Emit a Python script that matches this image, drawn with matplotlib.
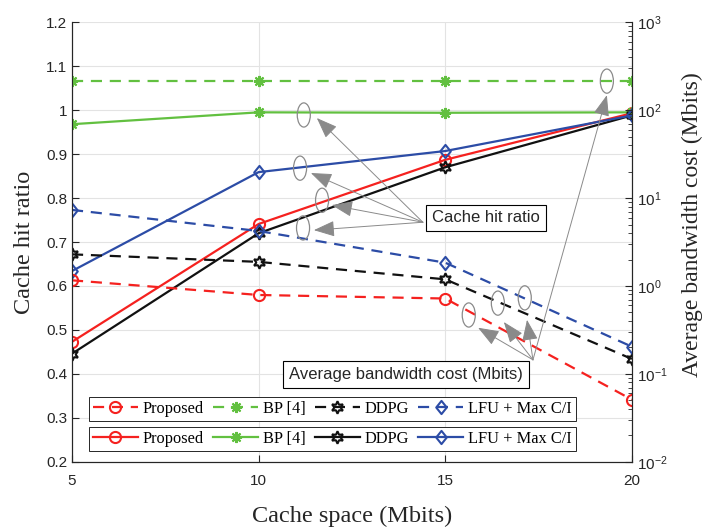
import matplotlib
matplotlib.use("Agg")
import matplotlib.pyplot as plt
from matplotlib.patches import Ellipse
from matplotlib.path import Path

# --------------------------------------------------------------------------- #
# data
# --------------------------------------------------------------------------- #
cache_space = [5, 10, 15, 20]
labels = ["Proposed", "BP [4]", "DDPG", "LFU + Max C/I"]

# cache hit ratio (left axis)
hit_proposed = [0.473, 0.741, 0.887, 0.993]
hit_bp = [0.968, 0.995, 0.994, 0.995]
hit_ddpg = [0.446, 0.720, 0.870, 0.988]
hit_lfu = [0.634, 0.859, 0.907, 0.988]

# average bandwidth cost in Mbits (right axis, log scale)
bw_proposed = [1.16, 0.79, 0.72, 0.051]
bw_bp = [214, 214, 214, 214]
bw_ddpg = [2.29, 1.88, 1.19, 0.148]
bw_lfu = [7.33, 4.22, 1.84, 0.204]

# --------------------------------------------------------------------------- #
# styles
# --------------------------------------------------------------------------- #
RED, GREEN, BLACK, BLUE = "#f5211f", "#62c040", "#111111", "#2c4ca6"
GRAY = "#8a8a8a"
TXT = "#262626"
SERIF = "Liberation Serif"
SANS = "Liberation Sans"

diamond = Path([(0, 1), (0.8, 0), (0, -1), (-0.8, 0), (0, 1)],
               [Path.MOVETO, Path.LINETO, Path.LINETO, Path.LINETO, Path.CLOSEPOLY])
markers = [
    dict(marker="o", ms=8),
    dict(marker=(8, 2, 0), ms=8),
    dict(marker=(6, 1, 0), ms=9),
    dict(marker=diamond, ms=9.5),
]
colors = [RED, GREEN, BLACK, BLUE]

plt.rcParams["font.family"] = SANS

fig = plt.figure(figsize=(7.06, 5.29), dpi=100)
ax = fig.add_axes([0.102, 0.127, 0.793, 0.831])
ax2 = ax.twinx()

solid = []
for ys, c, m in zip([hit_proposed, hit_bp, hit_ddpg, hit_lfu], colors, markers):
    ln, = ax.plot(cache_space, ys, color=c, lw=1.6, mfc="none", mec=c, mew=1.5, **m)
    solid.append(ln)

dashed = []
for ys, c, m in zip([bw_proposed, bw_bp, bw_ddpg, bw_lfu], colors, markers):
    ln, = ax2.plot(cache_space, ys, color=c, lw=1.6, ls="--", dashes=(5, 3.5),
                   mfc="none", mec=c, mew=1.5, **m)
    dashed.append(ln)

# axes
ax.set_xlim(5, 20)
ax.set_ylim(0.2, 1.2)
ax.set_xticks([5, 10, 15, 20])
ax.set_yticks([0.2 + 0.1 * i for i in range(11)])
ax.set_yticklabels(["0.2", "0.3", "0.4", "0.5", "0.6", "0.7", "0.8", "0.9", "1", "1.1", "1.2"])
ax2.set_yscale("log")
ax2.set_ylim(1e-2, 1e3)

ax.grid(True, color="#e3e3e3", lw=0.8)
ax.set_axisbelow(True)
for a in (ax, ax2):
    a.spines["top"].set_visible(False)
    for s in a.spines.values():
        s.set_color(TXT)
        s.set_linewidth(0.8)
    a.tick_params(direction="in", length=5, width=0.8, colors=TXT, labelsize=11)
ax.tick_params(axis="x", pad=9)
ax2.tick_params(which="minor", direction="in", length=3, width=0.6, colors=TXT)
ax.tick_params(axis="y", right=False)

ax.set_xlabel("Cache space (Mbits)", family=SERIF, fontsize=17.5, color=TXT)
ax.set_ylabel("Cache hit ratio", family=SERIF, fontsize=17.5, color=TXT)
ax2.set_ylabel("Average bandwidth cost (Mbits)", family=SERIF, fontsize=17, color=TXT)
ax.xaxis.set_label_coords(0.5, -0.10)
ax.yaxis.set_label_coords(-0.066, 0.5)
ax2.yaxis.set_label_coords(1.09, 0.54)

# --------------------------------------------------------------------------- #
# callouts: ellipses around the curves, arrows from the two text boxes
# --------------------------------------------------------------------------- #
hit_ellipses = [(11.21, 0.989), (11.11, 0.868), (11.70, 0.795), (11.19, 0.732)]
hit_heads = [(11.56, 0.982), (11.40, 0.857), (11.96, 0.784), (11.48, 0.727)]
bw_ellipses = [(15.63, 0.534), (16.41, 0.561), (17.13, 0.573), (19.33, 1.066)]
bw_heads = [(15.88, 0.505), (16.57, 0.518), (17.19, 0.523), (19.33, 1.034)]

for xy in hit_ellipses + bw_ellipses:
    ax2.add_patch(Ellipse(xy, 0.35, 0.055, transform=ax.transData, fill=False,
                          ec=GRAY, lw=0.9, zorder=5))

arrow = dict(arrowstyle="-|>,head_length=1.0,head_width=0.38", color=GRAY, lw=0.7,
             mutation_scale=13, shrinkA=0, shrinkB=0)
for head in hit_heads:
    ax2.annotate("", xy=head, xycoords=ax.transData, xytext=(14.40, 0.745),
                 textcoords=ax.transData, arrowprops=arrow, zorder=6)
for head in bw_heads:
    ax2.annotate("", xy=head, xycoords=ax.transData, xytext=(17.35, 0.432),
                 textcoords=ax.transData, arrowprops=arrow, zorder=6)

box = dict(boxstyle="square,pad=0.35", fc="white", ec="black", lw=0.8)
ax2.text(16.09, 0.755, "Cache hit ratio", transform=ax.transData, ha="center",
         va="center", fontsize=12, color=TXT, bbox=box, zorder=7)
ax2.text(13.95, 0.398, "Average bandwidth cost (Mbits)", transform=ax.transData,
         ha="center", va="center", fontsize=12, color=TXT, bbox=box, zorder=7)

# two stacked legends: dashed (bandwidth) over solid (hit ratio)
leg_kw = dict(ncol=4, loc="upper left", prop={"family": SERIF, "size": 11.8},
              handlelength=2.75, handletextpad=0.3, columnspacing=0.55,
              borderpad=0.25, borderaxespad=0, fancybox=False, framealpha=1,
              edgecolor=TXT)
leg1 = ax2.legend(dashed, labels, bbox_to_anchor=(0.03, 0.148), **leg_kw)
leg1.get_frame().set_linewidth(0.7)
ax2.add_artist(leg1)
leg2 = ax2.legend(solid, labels, bbox_to_anchor=(0.03, 0.080), **leg_kw)
leg2.get_frame().set_linewidth(0.7)

fig.savefig("out.png", dpi=100)
